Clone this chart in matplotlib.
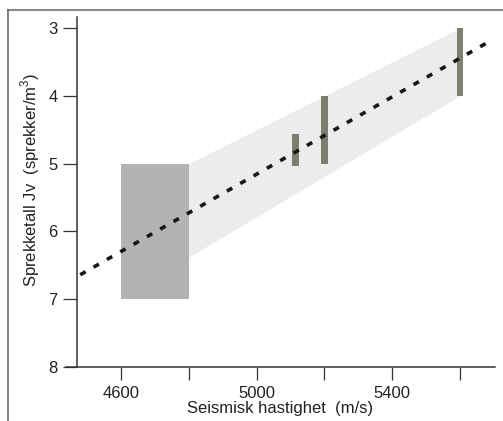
import matplotlib.pyplot as plt
from matplotlib.lines import Line2D

# trend line (dashed)
trend_x = [4480, 5690]
trend_y = [6.64, 3.19]

# light band: upper and lower edge
band_x = [4600, 4800, 5600]
band_top = [5.5, 5.0, 3.0]
band_bottom = [6.98, 6.38, 4.0]

# big grey box
box_x = [4600, 4800]
box_y = [5.0, 7.0]

# dark vertical bars: velocity, top, bottom
bar_x = [5115, 5200, 5600]
bar_top = [4.56, 4.0, 3.0]
bar_bottom = [5.04, 5.0, 4.0]

xticks = [4600, 4800, 5000, 5200, 5400, 5600]
xticklabels = ["4600", "", "5000", "", "5400", ""]
yticks = [3, 4, 5, 6, 7, 8]

plt.rcParams['font.family'] = ['Liberation Sans', 'DejaVu Sans']
plt.rcParams['mathtext.fontset'] = 'custom'
plt.rcParams['mathtext.rm'] = 'Liberation Sans'

fig = plt.figure(figsize=(5.03, 4.21), dpi=100)
ax = fig.add_axes([66 / 503, 1 - 367 / 421, (495 - 66) / 503, (367 - 17) / 421])

spine_col = '#38332e'

ax.fill_between(band_x, band_top, band_bottom, color='#ececec', lw=0, zorder=1)
ax.bar((box_x[0] + box_x[1]) / 2, box_y[1] - box_y[0], bottom=box_y[0],
       width=box_x[1] - box_x[0], color='#b1b4b3', zorder=2)
ax.bar(bar_x, [b - t for t, b in zip(bar_top, bar_bottom)], bottom=bar_top,
       width=20, color='#7c7e6e', zorder=3)
ax.plot(trend_x, trend_y, color='#1a1612', lw=2.6, dashes=(1.7, 2.55), zorder=4)

ax.set_xlim(4438, 5703)
ax.set_ylim(8, 2.84)

ax.spines['top'].set_visible(False)
ax.spines['right'].set_visible(False)
ax.spines['left'].set_position(('data', 4471))
for s in ['left', 'bottom']:
    ax.spines[s].set_color(spine_col)
    ax.spines[s].set_linewidth(1.1)

ax.set_xticks(xticks)
ax.set_xticklabels(xticklabels)
ax.set_yticks(yticks)
ax.tick_params(axis='both', color=spine_col, width=0.9, labelsize=12,
               labelcolor='#222222')
ax.tick_params(axis='x', length=9, pad=5)
ax.tick_params(axis='y', length=10, pad=4)

ax.set_xlabel("Seismisk hastighet  (m/s)", fontsize=12, color='#222222', labelpad=0)
ax.set_ylabel("Sprekketall Jv  (sprekker/m$^3$)", fontsize=12, color='#222222',
              labelpad=5)
ax.yaxis.label.set_y(0.535)

# outer frame (top and left only visible)
fig.add_artist(Line2D([8 / 503, 1], [1 - 10 / 421] * 2, color='#8a8a86', lw=1.5))
fig.add_artist(Line2D([8 / 503] * 2, [0, 1 - 10 / 421], color='#6a6a66', lw=1.2))

fig.savefig("out.png", dpi=100)
